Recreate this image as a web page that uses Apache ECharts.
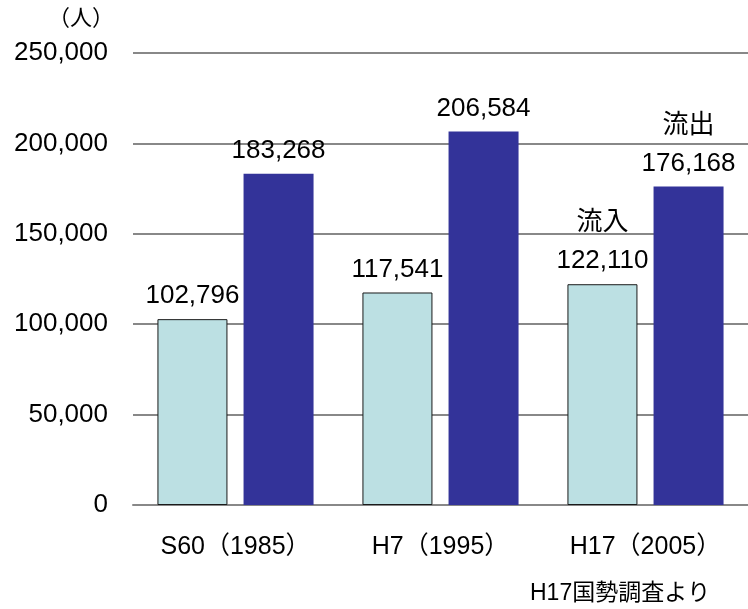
<!DOCTYPE html>
<html>
<head>
<meta charset="utf-8">
<script src="https://cdn.jsdelivr.net/npm/echarts@6/dist/echarts.min.js"></script>
<style>
  html, body { margin: 0; padding: 0; background: #fff; }
  #chart { width: 748px; height: 609px; }
</style>
</head>
<body>
<div id="chart"></div>
<script>
/** 流入・流出人口 */
const categories = ["S60（1985）", "H7（1995）", "H17（2005）"]
const inflow = [102796, 117541, 122110]
const outflow = [183268, 206584, 176168]
const yTicks = [0, 50000, 100000, 150000, 200000, 250000]

const FONT = "'Liberation Sans', Arial, 'Noto Sans CJK JP', sans-serif"

function fmt(v) {
    return v.toLocaleString("en-US")
}

let chart = echarts.init(document.getElementById("chart"))

let option = {
    animation: false,
    grid: { left: 133, right: 0, top: 53, bottom: 104 },
    xAxis: {
        type: "category",
        data: categories,
        axisTick: { show: false },
        axisLine: { lineStyle: { color: "#888", width: 2 } },
        axisLabel: { color: "#000", fontSize: 25, fontFamily: FONT, margin: 30 }
    },
    yAxis: {
        type: "value",
        min: yTicks[0],
        max: yTicks[yTicks.length - 1],
        interval: 50000,
        axisLine: { show: false },
        axisTick: { show: false },
        splitLine: { lineStyle: { color: "#888", width: 2 } },
        axisLabel: {
            color: "#000", fontSize: 26, fontFamily: FONT, margin: 25,
            formatter: v => fmt(v)
        }
    },
    series: [
        {
            name: "流入",
            type: "bar",
            data: inflow,
            barWidth: 70,
            barGap: "23%",
            itemStyle: { color: "#bce0e3", borderColor: "#1a1a1a", borderWidth: 1 },
            label: {
                show: true, position: "top", distance: 4,
                color: "#000", fontSize: 26, fontFamily: FONT, lineHeight: 38,
                formatter: p => (p.dataIndex === inflow.length - 1 ? "流入\n" : "") + fmt(p.value)
            }
        },
        {
            name: "流出",
            type: "bar",
            data: outflow,
            barWidth: 70,
            itemStyle: { color: "#333399" },
            label: {
                show: true, position: "top", distance: 4,
                color: "#000", fontSize: 26, fontFamily: FONT, lineHeight: 38,
                formatter: p => (p.dataIndex === outflow.length - 1 ? "流出\n" : "") + fmt(p.value)
            }
        }
    ],
    graphic: [
        {
            type: "text", left: 48, top: 8,
            style: { text: "（人）", fontSize: 22, fontFamily: FONT, fill: "#000" }
        },
        {
            type: "text", left: 530, top: 582,
            style: { text: "H17国勢調査より", fontSize: 23, fontFamily: FONT, fill: "#000" }
        }
    ]
}

chart.setOption(option)
</script>
</body>
</html>
